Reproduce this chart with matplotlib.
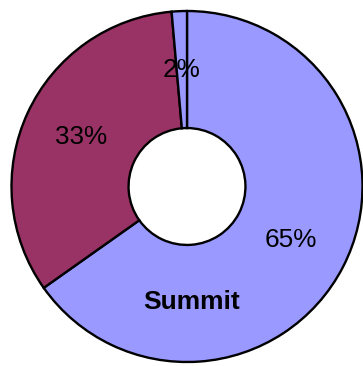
# imports
import matplotlib
matplotlib.use('Agg')
import matplotlib.pyplot as plt

# Slice data (clockwise from top)
labels = ['65%', '33%', '2%']
values = [65.2, 33.4, 1.4]
colors = ['#9999FF', '#993366', '#9999FF']
centerLabel = 'Summit'

plt.rcParams.update({'font.family': ['Liberation Sans', 'DejaVu Sans']})

fig = plt.figure(figsize=(3.63, 3.66), dpi=100)
ax = fig.add_axes([0, 0, 1, 1])

wedges, texts = ax.pie(values, colors=colors, startangle=90, counterclock=False,
                       radius=1.0, labels=labels, labeldistance=0.667,
                       wedgeprops={'width': 0.667, 'edgecolor': 'black', 'linewidth': 1.7},
                       textprops={'fontsize': 18.8, 'color': 'black', 'ha': 'center', 'va': 'center'})

ax.text(0.025, -0.66, centerLabel, fontsize=19, fontweight='bold', ha='center', va='center')

# Place the ring like the reference (pixels -> data units)
ax.set_aspect('auto')
ax.set_xlim(-1.0655, 1.0028)
ax.set_ylim(-1.0228, 1.0627)
ax.axis('off')

fig.savefig('out.png', dpi=100)
